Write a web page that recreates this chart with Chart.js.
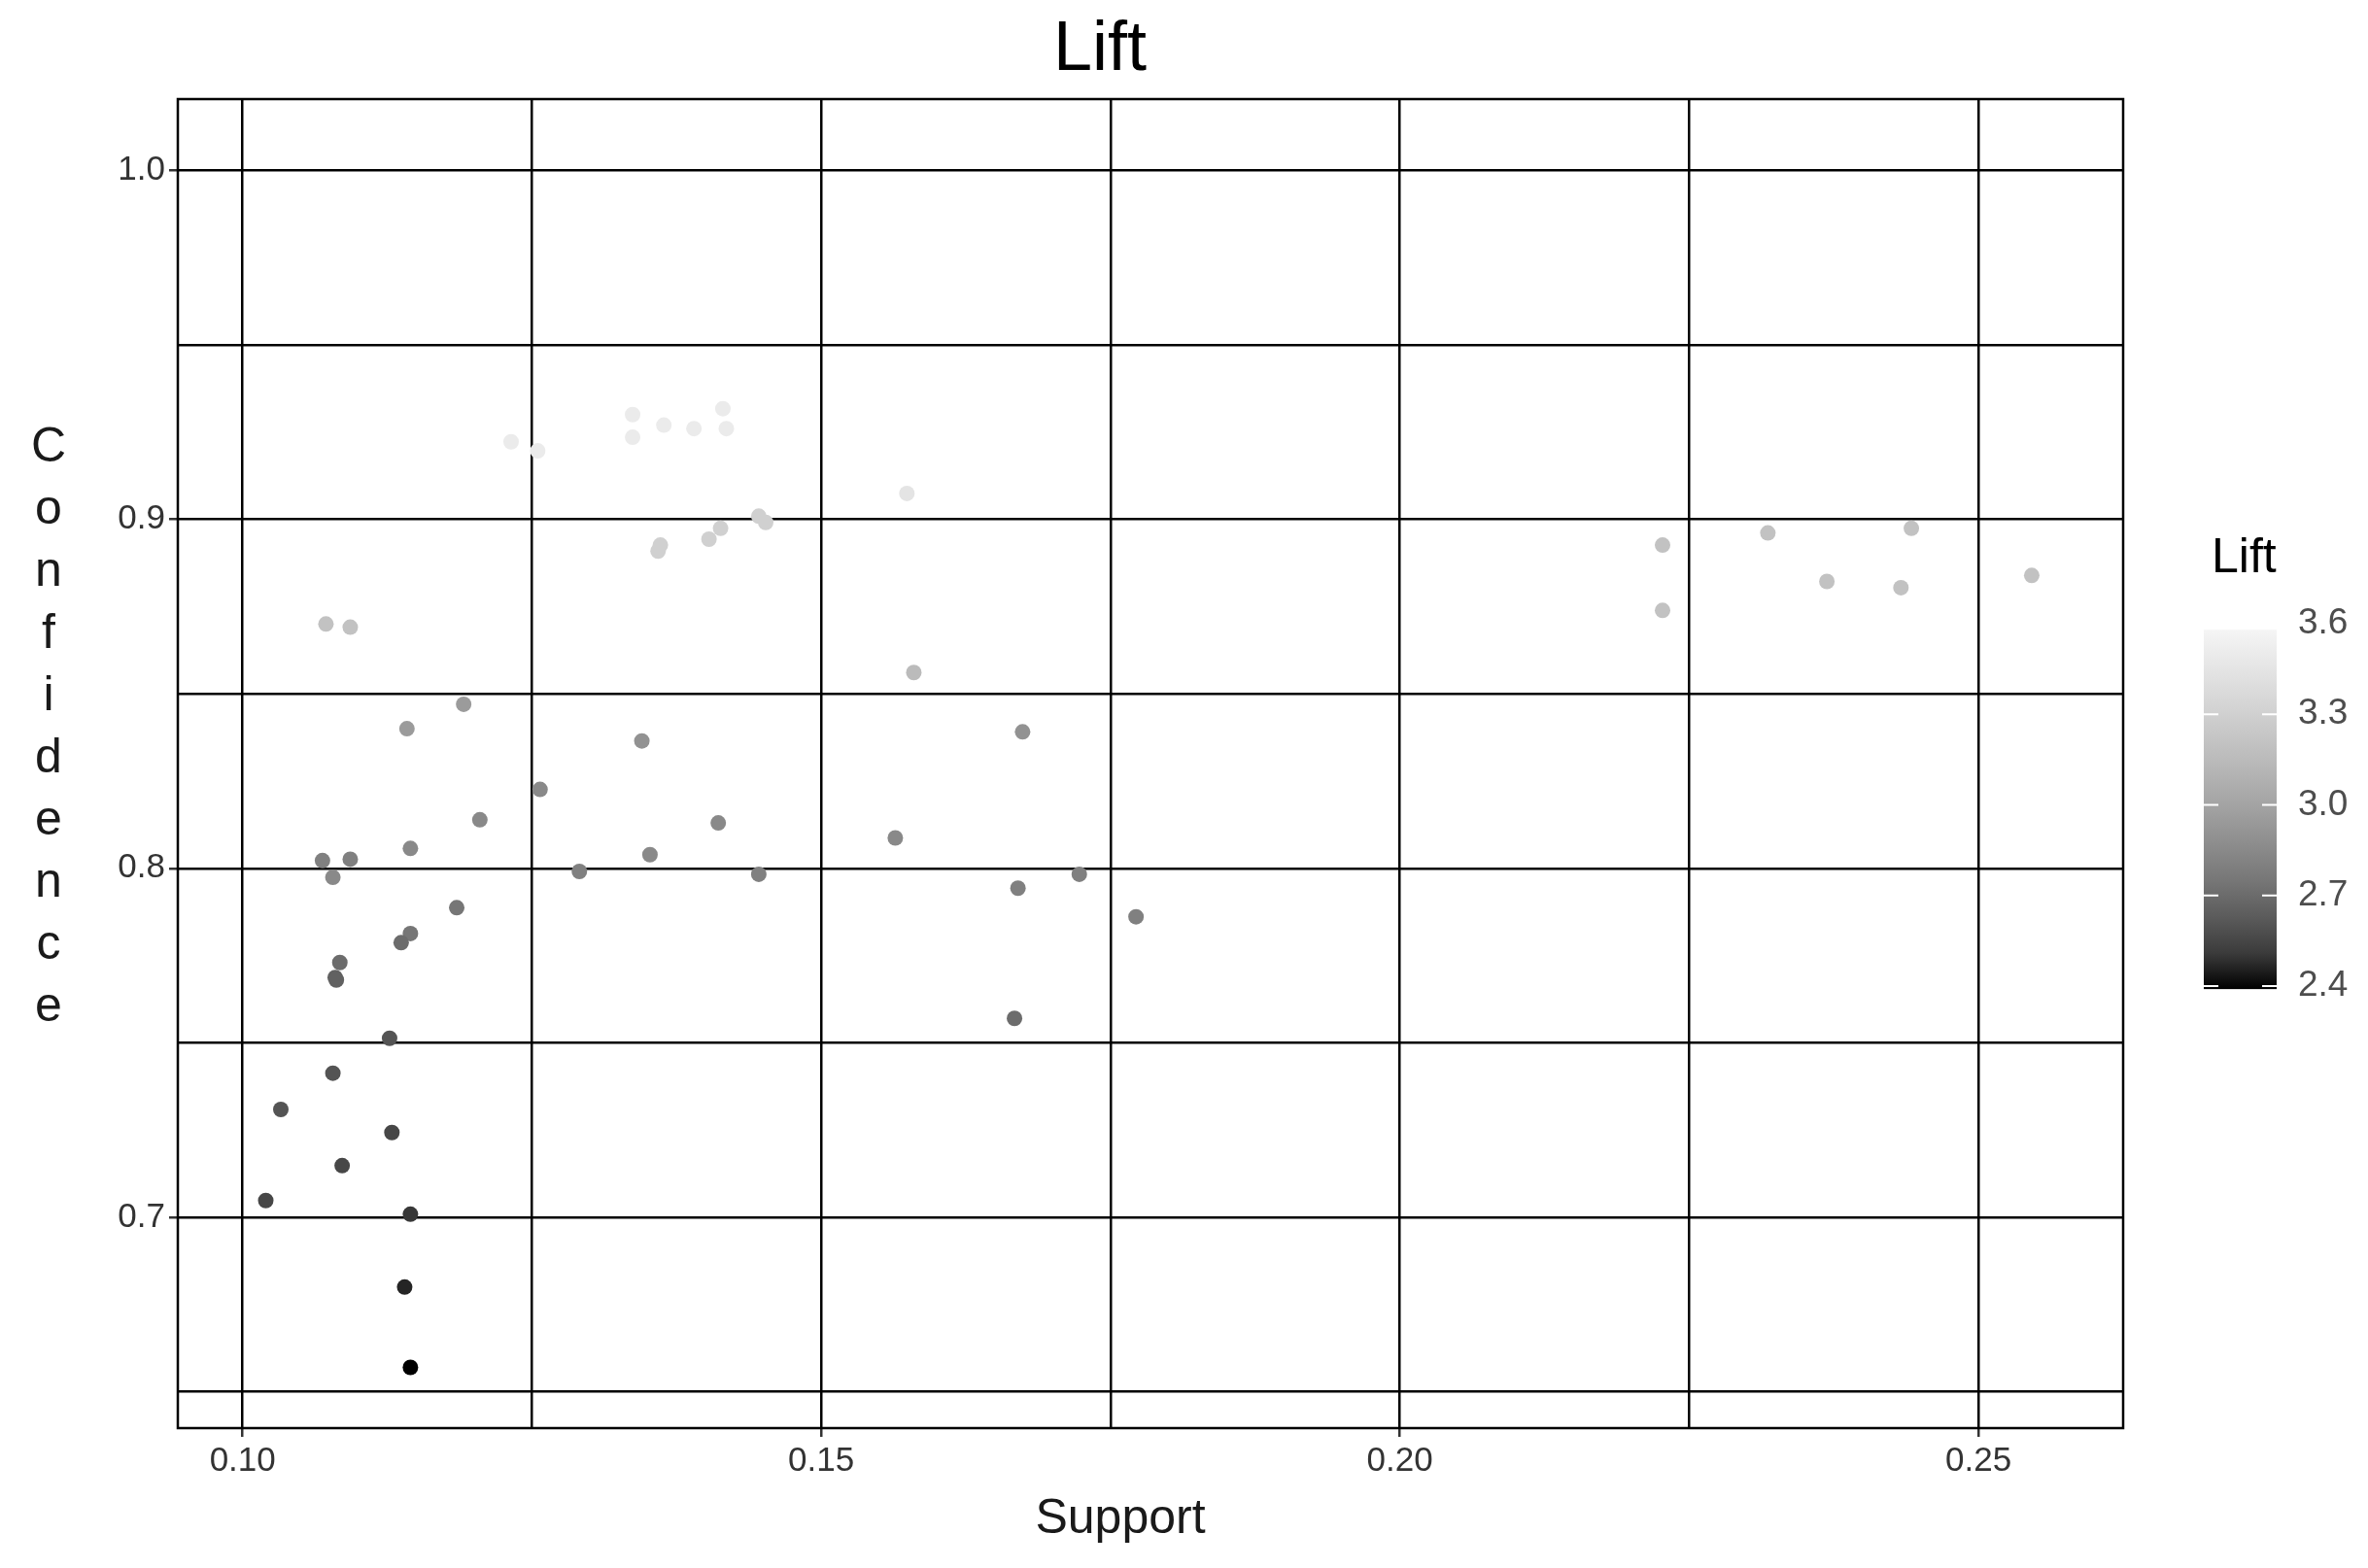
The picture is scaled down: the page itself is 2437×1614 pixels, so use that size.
<!DOCTYPE html>
<html><head><meta charset="utf-8">
<script src="https://cdn.jsdelivr.net/npm/chart.js@4"></script>
<style>html,body{margin:0;padding:0;background:#fff}#c{display:block}</style>
</head><body><canvas id="c" width="2437" height="1614"></canvas>
<script>
const support = [0.1232,0.1255,0.1337,0.1337,0.1364,0.1390,0.1415,0.1418,0.1574,0.1359,0.1361,0.1403,0.1413,0.1446,0.1452,0.1072,0.1093,0.1580,0.2227,0.2227,0.2318,0.2369,0.2433,0.2442,0.2546,0.1191,0.1142,0.1345,0.1674,0.1257,0.1205,0.1411,0.1564,0.1145,0.1352,0.1069,0.1093,0.1078,0.1291,0.1446,0.1723,0.1670,0.1772,0.1185,0.1145,0.1137,0.1084,0.1080,0.1081,0.1667,0.1127,0.1078,0.1033,0.1129,0.1086,0.1020,0.1145,0.1140,0.1145];
const confidence = [0.9222,0.9196,0.9300,0.9235,0.9270,0.9260,0.9317,0.9260,0.9074,0.8909,0.8926,0.8943,0.8974,0.9009,0.8991,0.8700,0.8691,0.8561,0.8926,0.8739,0.8961,0.8822,0.8804,0.8974,0.8839,0.8470,0.8400,0.8365,0.8391,0.8226,0.8139,0.8130,0.8087,0.8057,0.8039,0.8022,0.8026,0.7974,0.7991,0.7983,0.7983,0.7943,0.7861,0.7887,0.7813,0.7787,0.7730,0.7687,0.7680,0.7570,0.7513,0.7413,0.7309,0.7243,0.7148,0.7048,0.7009,0.6800,0.6570];
const lift = [3.5,3.5,3.5,3.5,3.5,3.5,3.5,3.5,3.45,3.3,3.3,3.3,3.3,3.3,3.3,3.2,3.2,3.15,3.2,3.2,3.2,3.2,3.2,3.2,3.2,2.95,2.95,2.9,2.9,2.85,2.85,2.85,2.85,2.85,2.85,2.8,2.8,2.85,2.8,2.8,2.8,2.8,2.8,2.75,2.75,2.7,2.7,2.65,2.65,2.7,2.6,2.6,2.6,2.55,2.55,2.55,2.5,2.45,2.4];
const liftTicks = [2.4,2.7,3.0,3.3,3.6];
const LMIN=2.4, LMAX=3.62;
function grey(v){const t=Math.max(0,Math.min(1,(v-LMIN)/(LMAX-LMIN)));const g=Math.round(250*Math.pow(t,0.6));return `rgb(${g},${g},${g})`;}
const pts = support.map((x,i)=>({x, y:confidence[i]}));
const showX = v => Math.abs(v*20-Math.round(v*20))<1e-6;
const showY = v => Math.abs(v*10-Math.round(v*10))<1e-6;
const FF='"Liberation Sans", Arial, sans-serif';

const deco = {
  id:'deco',
  afterDraw(chart){
    const c=chart.ctx; c.save();
    const a=chart.chartArea;
    c.strokeStyle='#000'; c.lineWidth=2.5; c.strokeRect(a.left,a.top,a.right-a.left,a.bottom-a.top);
    c.fillStyle='#000'; c.textAlign='center'; c.textBaseline='middle';
    c.font='72px '+FF;
    c.fillText('Lift',1132,52);
    c.font='50px '+FF;
    c.fillStyle='#1a1a1a';
    c.fillText('Support',1153,1564);
    const word='Confidence';
    for(let i=0;i<word.length;i++) c.fillText(word[i],50,461+i*64);
    const bx=2268,bw=75; const yOf=v=>1015-(v-2.4)/1.2*373;
    const top=yOf(3.58), bot=yOf(2.39);
    const gr=c.createLinearGradient(0,bot,0,top);
    for(let k=0;k<=10;k++){const v=2.39+(3.58-2.39)*k/10; gr.addColorStop(k/10,grey(v));}
    c.fillStyle=gr; c.fillRect(bx,top,bw,bot-top);
    c.strokeStyle='#fff'; c.lineWidth=2;
    c.textAlign='left'; c.fillStyle='#4d4d4d';
    c.font='37px '+FF;
    liftTicks.forEach(v=>{const y=yOf(v);
      c.beginPath();c.moveTo(bx,y);c.lineTo(bx+15,y);c.moveTo(bx+bw-15,y);c.lineTo(bx+bw,y);c.stroke();
      c.fillText(v.toFixed(1),bx+bw+22,y);});
    c.fillStyle='#000'; c.font='50px '+FF;
    c.fillText('Lift',2276,575);
    c.restore();
  }
};

new Chart(document.getElementById('c'),{
  type:'scatter',
  data:{datasets:[{data:pts,pointRadius:8,pointHoverRadius:8,borderWidth:0,
    backgroundColor:lift.map(grey),pointBorderColor:'rgba(0,0,0,0)'}]},
  options:{responsive:false,animation:false,
    layout:{padding:{top:102,right:252,left:0,bottom:0}},
    plugins:{legend:{display:false},tooltip:{enabled:false}},
    scales:{
      x:{type:'linear',min:0.0944,max:0.2625,
        afterFit(s){s.height=144;},
        afterBuildTicks(s){const t=[];for(let v=0.100;v<=0.2501;v+=0.025)t.push({value:Math.round(v*1000)/1000});s.ticks=t;},
        border:{display:false},
        grid:{color:'#000',lineWidth:2.5,tickLength:9,
          tickColor:ctx=>ctx.tick&&showX(ctx.tick.value)?'#333':'rgba(0,0,0,0)'},
        ticks:{color:'#333',padding:4,font:{size:35,family:FF},
          callback:v=>showX(v)?v.toFixed(2):''}},
      y:{type:'linear',min:0.6396,max:1.0204,
        afterFit(s){s.width=183;},
        afterBuildTicks(s){const t=[];for(let v=0.65;v<=1.0001;v+=0.05)t.push({value:Math.round(v*100)/100});s.ticks=t;},
        border:{display:false},
        grid:{color:'#000',lineWidth:2.5,tickLength:9,
          tickColor:ctx=>ctx.tick&&showY(ctx.tick.value)?'#333':'rgba(0,0,0,0)'},
        ticks:{color:'#333',padding:4,font:{size:35,family:FF},
          callback:v=>showY(v)?v.toFixed(1):''}}
    }},
  plugins:[deco]
});
</script></body></html>
